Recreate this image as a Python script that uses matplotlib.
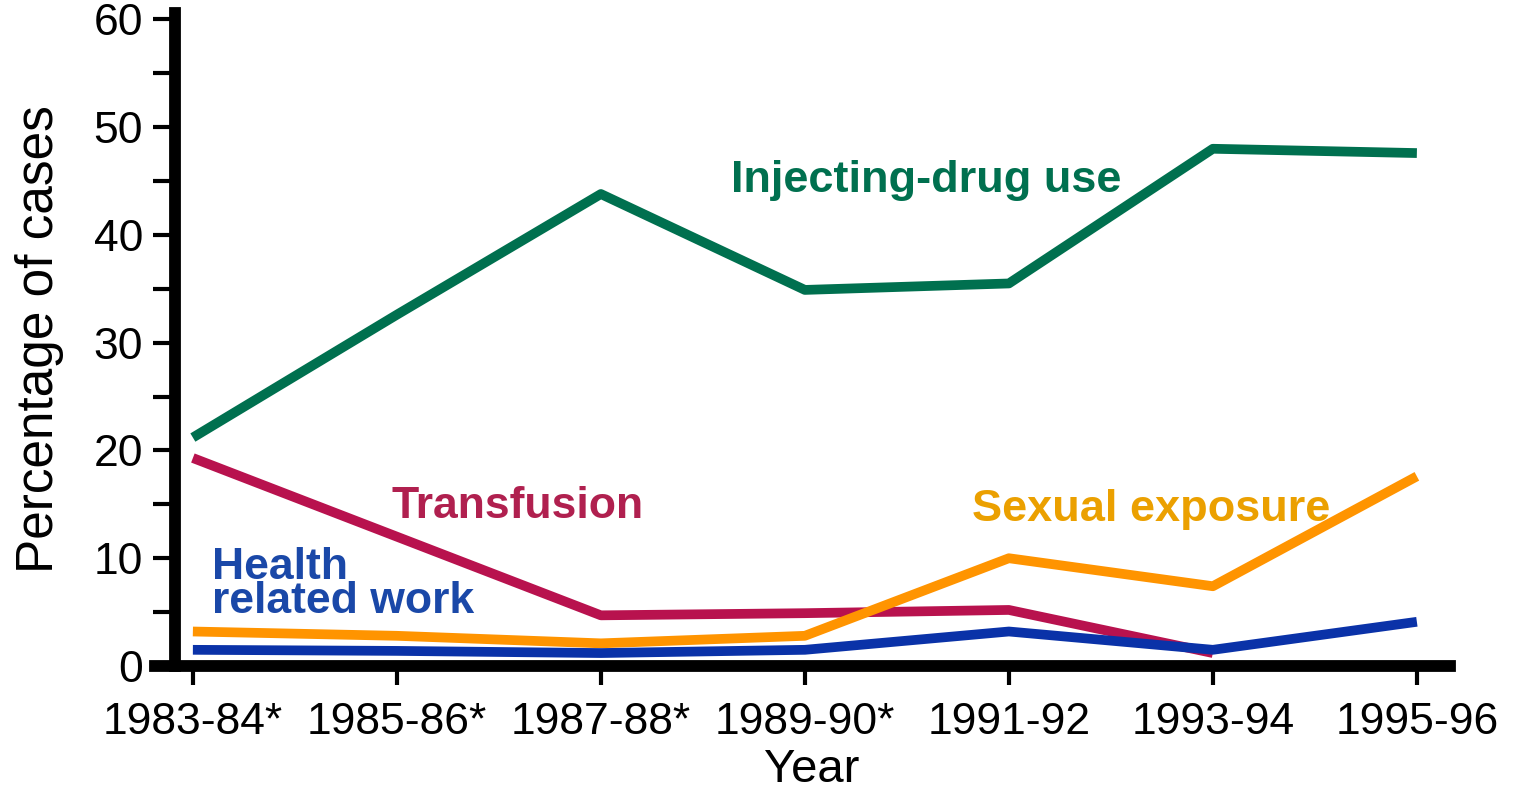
import matplotlib
matplotlib.use("Agg")
import matplotlib.pyplot as plt
import numpy as np

plt.rcParams["font.family"] = ["Liberation Sans", "DejaVu Sans"]

# data
years = ["1983-84*", "1985-86*", "1987-88*", "1989-90*", "1991-92", "1993-94", "1995-96"]
drug_use = [21.2, 32.6, 43.8, 34.9, 35.5, 48.0, 47.6]
transfusion = [19.3, 12.0, 4.7, 4.9, 5.2, 1.2]
sexual = [3.2, 2.8, 2.1, 2.8, 10.0, 7.4, 17.6]
health_work = [1.5, 1.4, 1.2, 1.5, 3.2, 1.5, 4.1]

green = "#00704f"
red = "#b8124e"
orange = "#ff9400"
blue = "#0a32a8"

fig = plt.figure(figsize=(15.28, 8.02), dpi=100)
ax = fig.add_axes([0.1014, 0.1696, 0.8475, 0.8142])

x = np.arange(len(years))
ax.plot(x[:len(transfusion)], transfusion, color=red, lw=7, solid_capstyle="butt")
ax.plot(x, sexual, color=orange, lw=7, solid_capstyle="butt")
ax.plot(x, health_work, color=blue, lw=7, solid_capstyle="butt")
ax.plot(x, drug_use, color=green, lw=7, solid_capstyle="butt")

# labels on the lines
ax.text(2.64, 44.0, "Injecting-drug use", color=green, fontsize=32.5, fontweight="bold")
ax.text(0.975, 13.7, "Transfusion", color="#b0204f", fontsize=32, fontweight="bold")
ax.text(3.82, 13.5, "Sexual exposure", color="#eba000", fontsize=32.5, fontweight="bold")
ax.text(0.093, 4.9, "Health\nrelated work", color="#1a48a8", fontsize=32,
        fontweight="bold", linespacing=0.8, va="baseline")

ax.set_xlim(-0.186, 6.162)
ax.set_ylim(0, 60.6)

for s in ["top", "right"]:
    ax.spines[s].set_visible(False)
ax.spines["left"].set_linewidth(8.5)
ax.spines["bottom"].set_linewidth(8.5)
ax.spines["left"].set_position(("data", -0.088))

ax.set_xticks(x)
ax.set_xticklabels(years)
ax.set_yticks(np.arange(0, 61, 10))
ax.set_yticks(np.arange(5, 60, 10), minor=True)
ax.tick_params(axis="x", length=14, width=3, labelsize=32, pad=12)
ax.tick_params(axis="y", which="both", length=16, width=3, labelsize=32, pad=7)

ax.set_xlabel("Year", fontsize=34)
ax.xaxis.set_label_coords(0.507, -0.125)
ax.set_ylabel("Percentage of cases", fontsize=37, labelpad=21)

fig.savefig("out.png", dpi=100)
